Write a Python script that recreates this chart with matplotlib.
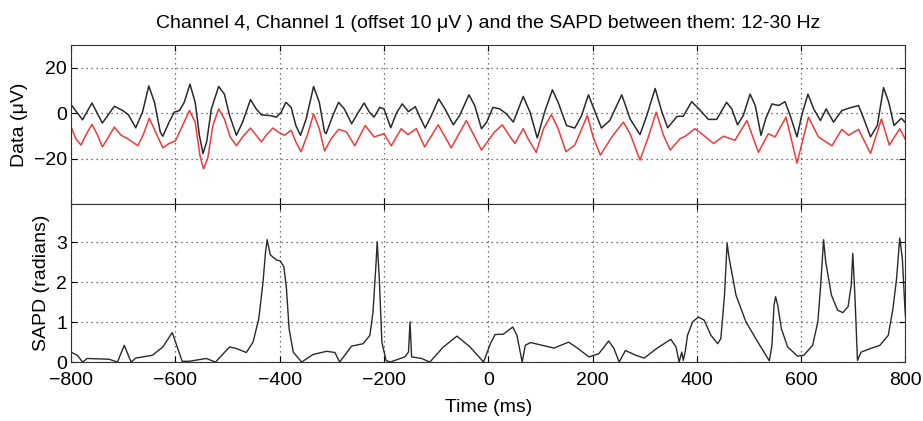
import matplotlib
matplotlib.use('Agg')
from matplotlib import pyplot as plt

plt.rcParams['font.family'] = ['Liberation Sans', 'DejaVu Sans']

# channel 4 (black trace), time in ms and amplitude in uV
ch4_t = [-801, -778, -760, -740, -717, -701, -690, -676, -663, -651, -640, -629, -624, -612,
         -602, -592, -583, -572, -562, -554, -547, -540, -531, -517, -506, -496, -483, -471,
         -456, -445, -435, -419, -406, -397, -388, -378, -369, -360, -349, -335, -324, -314,
         -311, -298, -287, -276, -262, -250, -238, -228, -219, -208, -200, -187, -176, -165,
         -153, -140, -131, -121, -109, -95, -83, -67, -55, -37, -26, -13, -3, 9, 22, 35, 48,
         67, 80, 94, 108, 123, 134, 150, 166, 179, 192, 205, 217, 233, 256, 272, 291, 304,
         320, 333, 344, 362, 374, 390, 404, 422, 438, 457, 467, 478, 489, 502, 512, 523, 532,
         544, 557, 569, 579, 592, 601, 613, 624, 637, 648, 662, 678, 691, 710, 720, 733, 746,
         758, 768, 778, 792, 804]
ch4_v = [4.1, -2.9, 4.5, -4.3, 3.1, 1.2, -0.7, -6.4, 0.5, 12.0, 4.8, -8.2, -10.1, -3.9,
         0.5, 1.2, 4.8, 12.8, 4.8, -9.7, -17.7, -12.6, 1.9, 11.8, 8.4, -1.0, -9.7, -3.9,
         6.0, 1.9, -0.7, -1.0, -1.7, 0.5, 4.8, 2.6, -5.4, -9.7, -2.4, 11.8, 4.8, -8.2,
         -9.0, -1.0, 4.8, 1.9, -4.6, 0.1, 4.5, 0.5, -1.7, 2.6, 1.9, -6.4, 0.1, 4.1,
         0.7, 2.9, -1.7, -6.5, -1.0, 6.3, 1.9, -5.1, -1.0, 8.1, 3.4, -6.8, -3.9, 2.6, 1.9, -0.3, -3.9,
         7.4, 0.5, -10.9, 0.5, 10.3, 4.8, -5.4, -6.5, -1.0, 8.1, 0.5, -6.5, -3.2, 8.1, -2.5, -9.4, -1.0,
         10.9, 0.5, -6.4, -1.4, -1.3, 5.1, 1.9, -2.7, -2.7, 4.8, 1.9, -5.1, -1.0, 8.4, 3.4, -9.7, -2.4,
         4.1, 3.4, 5.1, -1.0, -10.4, -1.0, 8.4, 1.9, -3.2, 1.9, -3.9, 1.2, 2.2, 3.4, -2.4, -10.4, -5.4,
         11.3, 4.8, -5.4, -2.2, -5.1]

# channel 1 (red trace), as drawn, i.e. already shifted down by the 10 uV offset
ch1_t = [-801, -791, -781, -772, -760, -749, -740, -730, -717, -704, -692, -672, -662, -650,
         -638, -624, -612, -600, -589, -573, -562, -553, -546, -538, -528, -517, -506, -495,
         -483, -471, -456, -445, -435, -426, -413, -403, -391, -378, -369, -359, -347, -335,
         -324, -314, -301, -287, -272, -256, -236, -219, -200, -186, -167, -154, -138, -122,
         -96, -71, -42, -13, 12, 27, 38, 51, 67, 76, 92, 106, 121, 134, 149, 166, 190, 201,
         215, 237, 259, 272, 291, 307, 322, 336, 349, 368, 378, 396, 409, 432, 451, 473, 496,
         518, 537, 550, 571, 592, 614, 633, 659, 678, 691, 710, 733, 754, 769, 789, 804]
ch1_v = [-5.4, -11.1, -14.0, -9.7, -4.9, -9.7, -14.8, -11.1, -6.1, -9.7, -11.1, -14.3, -9.7, -2.2,
         -8.2, -15.2, -13.3, -12.2, -6.8, 1.2, -3.9, -18.4, -24.5, -19.8, -5.4, 1.9, -2.5, -10.4,
         -14.3, -10.4, -6.5, -9.7, -12.6, -9.7, -6.5, -8.2, -9.7, -7.5, -12.6, -16.9, -9.7, -0.3,
         -6.8, -16.6, -11.1, -7.1, -8.2, -14.3, -5.4, -10.4, -9.0, -14.3, -6.8, -9.4, -6.8, -14.8,
         -5.1, -15.2, -3.2, -16.2, -8.2, -5.1, -9.0, -13.3, -6.8, -11.1, -17.2, -6.8, -0.6, -6.8, -16.9, -14.0, -1.0, -10.4,
         -18.4, -10.4, -3.9, -9.0, -20.6, -10.4, 0.5, -9.7, -16.2, -11.1, -10.1, -6.8, -9.0, -13.3, -10.1, -11.9, -3.2,
         -17.2, -9.0, -10.4, -1.7, -22.0, -1.7, -10.4, -14.3, -7.1, -9.7, -7.1, -17.7, -2.5, -14.0, -6.8, -13.3]

# SAPD between the channels (radians)
sapd_t = [-799, -788, -778, -769, -727, -711, -698, -685, -676, -644, -624, -606, -587, -573,
          -541, -523, -496, -483, -464, -451, -440, -432, -427, -424, -418, -406, -399, -392,
          -387, -382, -374, -358, -336, -310, -294, -285, -262, -240, -227, -221, -215, -213,
          -209, -204, -196, -188, -160, -153, -150, -147, -128, -112, -86, -60, -35, -9, 4, 13,
          29, 47, 55, 65, 71, 81, 126, 154, 171, 193, 212, 231, 241, 251, 263, 283, 299, 324,
          350, 360, 366, 371, 374, 378, 382, 392, 403, 414, 427, 440, 446, 453, 458, 462, 475,
          494, 517, 539, 544, 548, 551, 555, 562, 574, 593, 605, 622, 632, 637, 643, 647, 658,
          670, 680, 690, 696, 699, 703, 708, 715, 735, 751, 767, 776, 783, 789, 794, 799, 802]
sapd_v = [0.24, 0.17, 0.0, 0.09, 0.07, 0.0, 0.42, 0.0, 0.1, 0.17, 0.38, 0.74, 0.02, 0.02,
          0.09, 0.0, 0.38, 0.34, 0.24, 0.5, 1.09, 2.0, 2.77, 3.07, 2.69, 2.56, 2.54, 2.39,
          1.85, 0.84, 0.25, 0.0, 0.19, 0.27, 0.24, 0.0, 0.4, 0.46, 0.67, 1.26, 2.52, 3.02,
          2.1, 0.5, 0.04, 0.0, 0.13, 0.25, 1.01, 0.13, 0.09, 0.0, 0.38, 0.65, 0.38, 0.0, 0.46, 0.69,
          0.7, 0.88, 0.67, 0.0, 0.42, 0.49, 0.35, 0.5, 0.35, 0.13, 0.21, 0.53, 0.34, 0.0, 0.29, 0.17, 0.1, 0.35,
          0.57, 0.38, 0.0, 0.25, 0.04, 0.29, 0.67, 1.01, 1.13, 1.05, 0.67, 0.46, 0.59, 1.68, 2.98, 2.6, 1.68,
          1.01, 0.5, 0.03, 0.42, 1.43, 1.64, 1.43, 0.84, 0.38, 0.15, 0.17, 0.42, 1.01, 1.85, 3.07, 2.52, 1.68,
          1.3, 1.24, 1.39, 1.93, 2.73, 1.68, 0.04, 0.25, 0.35, 0.42, 0.67, 1.34, 2.1, 3.11, 2.6, 1.34, 0.84]

xticks = [-800, -600, -400, -200, 0, 200, 400, 600, 800]

fig = plt.figure(figsize=(9.23, 4.21), dpi=100)
ax1 = fig.add_axes([0.077, 0.515, 0.904, 0.378])
ax2 = fig.add_axes([0.077, 0.140, 0.904, 0.375], sharex=ax1)

ax1.plot(ch4_t, ch4_v, color='#2a2a2a', lw=1.1, solid_joinstyle='round')
ax1.plot(ch1_t, ch1_v, color='#f03a3a', lw=1.1, solid_joinstyle='round')
ax2.plot(sapd_t, sapd_v, color='#2a2a2a', lw=1.0, solid_joinstyle='round')

for ax in (ax1, ax2):
    ax.set_xlim(-800, 800)
    ax.set_xticks(xticks)
    ax.grid(True, linestyle=(0, (1, 3)), color='#444444', lw=0.9)
    ax.tick_params(direction='in', top=True, right=True, length=4, labelsize=14, pad=3)
    for s in ax.spines.values():
        s.set_color('#333333')

ax1.set_ylim(-40, 30)
ax1.set_yticks([-20, 0, 20])
ax1.tick_params(labelbottom=False)
ax1.set_ylabel('Data (\u03bcV)', fontsize=14)
ax1.set_title('Channel 4, Channel 1 (offset 10 \u03bcV ) and the SAPD between them: 12-30 Hz',
              fontsize=14, pad=12)

ax2.set_ylim(0, 3.96)
ax2.set_yticks([0, 1, 2, 3])
ax2.tick_params(axis='x', pad=7)
ax2.set_ylabel('SAPD (radians)', fontsize=14)
ax2.set_xlabel('Time (ms)', fontsize=14, labelpad=7)

fig.align_ylabels([ax1, ax2])
fig.savefig('out.png')
